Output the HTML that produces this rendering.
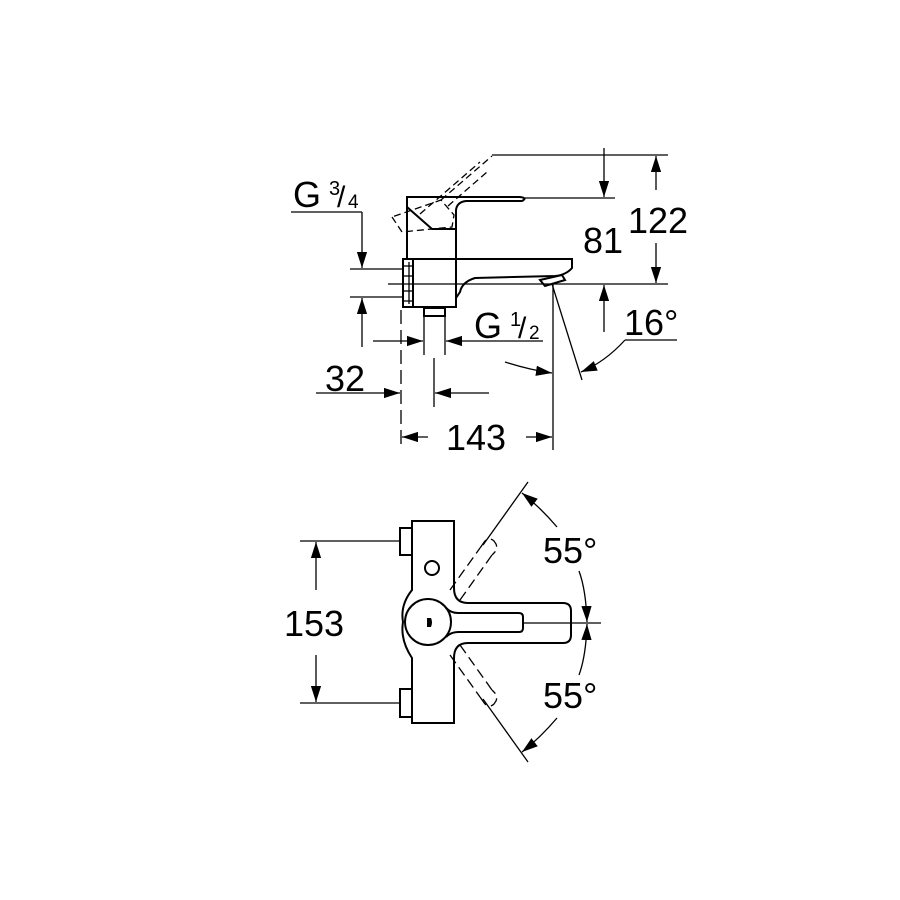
<!DOCTYPE html>
<html><head><meta charset="utf-8"><style>
html,body{margin:0;padding:0;background:#fff}
svg{display:block}
text{font-family:"Liberation Sans",sans-serif;fill:#000}
</style></head><body>
<svg width="900" height="900" viewBox="0 0 900 900" xmlns="http://www.w3.org/2000/svg">
<defs>
<marker id="a" viewBox="0 0 10 10" refX="10" refY="5" markerWidth="16" markerHeight="16" markerUnits="userSpaceOnUse" orient="auto">
<path d="M0,1.8 L10,5 L0,8.2 z" fill="#000"/>
</marker>
</defs>
<g fill="none" stroke="#000" stroke-width="1.3">
<line x1="492" y1="155" x2="668" y2="155"/>
<line x1="525" y1="198" x2="615" y2="198"/>
<line x1="388" y1="284" x2="668" y2="284"/>
<line x1="350" y1="269" x2="403" y2="269"/>
<line x1="350" y1="297" x2="403" y2="297"/>
<line x1="291" y1="212" x2="362" y2="212"/>
<line x1="362" y1="212" x2="362" y2="268" marker-end="url(#a)"/>
<line x1="362" y1="347" x2="362" y2="298" marker-end="url(#a)"/>
<line x1="656" y1="190" x2="656" y2="156" marker-end="url(#a)"/>
<line x1="656" y1="243" x2="656" y2="283" marker-end="url(#a)"/>
<line x1="604" y1="148" x2="604" y2="197" marker-end="url(#a)"/>
<line x1="604" y1="332" x2="604" y2="285" marker-end="url(#a)"/>
<path d="M407,197 L520,197 Q528,198 522,201 L466,201 Q457,202 456,210 L456,307 L403,307 L403,259 L407,259 Z" stroke-width="2"/>
<line x1="407" y1="259" x2="456" y2="259" stroke-width="2"/>
<path d="M407,207 L432,229 L456,229" stroke-width="2"/>
<path d="M403,259 L413,259 L413,307" stroke-width="2"/>
<line x1="409" y1="262" x2="409" y2="304"/>
<rect x="403" y="266" width="10" height="10"/>
<rect x="403" y="291" width="10" height="10"/>
<path d="M456,259 L572,259 L572,268 Q566,275 555,276 L475,278 Q462,282 460,292 L456,298" stroke-width="2"/>
<path d="M540,280 L562,275 L565,280 L545,286 Z" stroke-width="2"/>
<g stroke-dasharray="7,4">
<path d="M392,217 L402,232 L452,227 L454,215 L441,200 Z"/>
<line x1="441" y1="200" x2="492" y2="156"/>
<line x1="448" y1="206" x2="487" y2="172"/>
<line x1="420" y1="214" x2="480" y2="162"/>
</g>
<rect x="424" y="308" width="21" height="8" stroke-width="2"/>
<line x1="424" y1="316" x2="424" y2="355"/>
<line x1="445" y1="316" x2="445" y2="355"/>
<line x1="434" y1="358" x2="434" y2="407"/>
<line x1="401" y1="310" x2="401" y2="450" stroke-dasharray="14,6"/>
<line x1="553" y1="284" x2="553" y2="450"/>
<line x1="552" y1="284" x2="582" y2="380"/>
<line x1="373" y1="341" x2="423" y2="341" marker-end="url(#a)"/>
<line x1="543" y1="341" x2="446" y2="341" marker-end="url(#a)"/>
<line x1="316" y1="393" x2="400" y2="393" marker-end="url(#a)"/>
<line x1="489" y1="393" x2="435" y2="393" marker-end="url(#a)"/>
<line x1="428" y1="437" x2="402" y2="437" marker-end="url(#a)"/>
<line x1="526" y1="437" x2="552" y2="437" marker-end="url(#a)"/>
<path d="M505,362 Q530,370 552,373" marker-end="url(#a)"/>
<path d="M625,340 Q605,362 581,372" marker-end="url(#a)"/>
<line x1="625" y1="340" x2="677" y2="340"/>

<line x1="300" y1="541" x2="400" y2="541"/>
<line x1="300" y1="703" x2="400" y2="703"/>
<line x1="316" y1="590" x2="316" y2="542" marker-end="url(#a)"/>
<line x1="316" y1="655" x2="316" y2="702" marker-end="url(#a)"/>
<path d="M412,521 L454,521 L454,588 Q454,603 468,603 L563,603 Q571,603 571,611 L571,635 Q571,643 563,643 L468,643 Q454,643 454,658 L454,723 L412,723 L412,658 Q400,640 403,622 Q400,605 412,590 Z" stroke-width="2"/>
<rect x="400" y="528" width="12" height="27" stroke-width="2"/>
<rect x="400" y="689" width="12" height="28" stroke-width="2"/>
<circle cx="432" cy="568" r="7" stroke-width="2"/>
<circle cx="428" cy="622" r="23" fill="#fff" stroke-width="2"/>
<path d="M446,608 Q451,613 458,613 L519,613 Q523,613 523,617 L523,628 Q523,632 519,632 L458,632 Q451,632 446,637" stroke-width="2"/>
<path d="M427,618 L431,618 Q433,622 431,627 L427,627 Z" fill="#000" stroke="none"/>
<line x1="523" y1="623" x2="601" y2="623"/>
<line x1="483" y1="545" x2="528" y2="482"/>
<line x1="483" y1="699" x2="528" y2="762"/>
<g stroke-dasharray="10,5">
<line x1="450" y1="590" x2="480" y2="548"/>
<line x1="460" y1="600" x2="492" y2="555"/>
<path d="M480,548 L485,541 Q490,537 494,541 L496,544 Q498,549 494,553 L492,555"/>
<line x1="450" y1="655" x2="480" y2="697"/>
<line x1="460" y1="645" x2="492" y2="690"/>
<path d="M480,697 L485,704 Q490,708 494,704 L496,701 Q498,696 494,692 L492,690"/>
</g>
<path d="M557,527 Q540,507 522,493" marker-end="url(#a)"/>
<path d="M579,571 Q586,590 587,622" marker-end="url(#a)"/>
<path d="M579,675 Q586,656 587,624" marker-end="url(#a)"/>
<path d="M557,718 Q540,738 522,752" marker-end="url(#a)"/>
</g>
<g font-size="36">
<text x="293" y="207">G</text>
<text x="329" y="195" font-size="20">3</text>
<text x="337" y="207" font-size="30">/</text>
<text x="348" y="208" font-size="19">4</text>
<text x="628" y="233">122</text>
<text x="583" y="253">81</text>
<text x="474" y="338">G</text>
<text x="510" y="326" font-size="20">1</text>
<text x="518" y="338" font-size="30">/</text>
<text x="529" y="339" font-size="19">2</text>
<text x="624" y="335">16°</text>
<text x="325" y="391">32</text>
<text x="446" y="450">143</text>
<text x="284" y="636">153</text>
<text x="543" y="563">55°</text>
<text x="543" y="708">55°</text>
</g>
</svg>
</body></html>
